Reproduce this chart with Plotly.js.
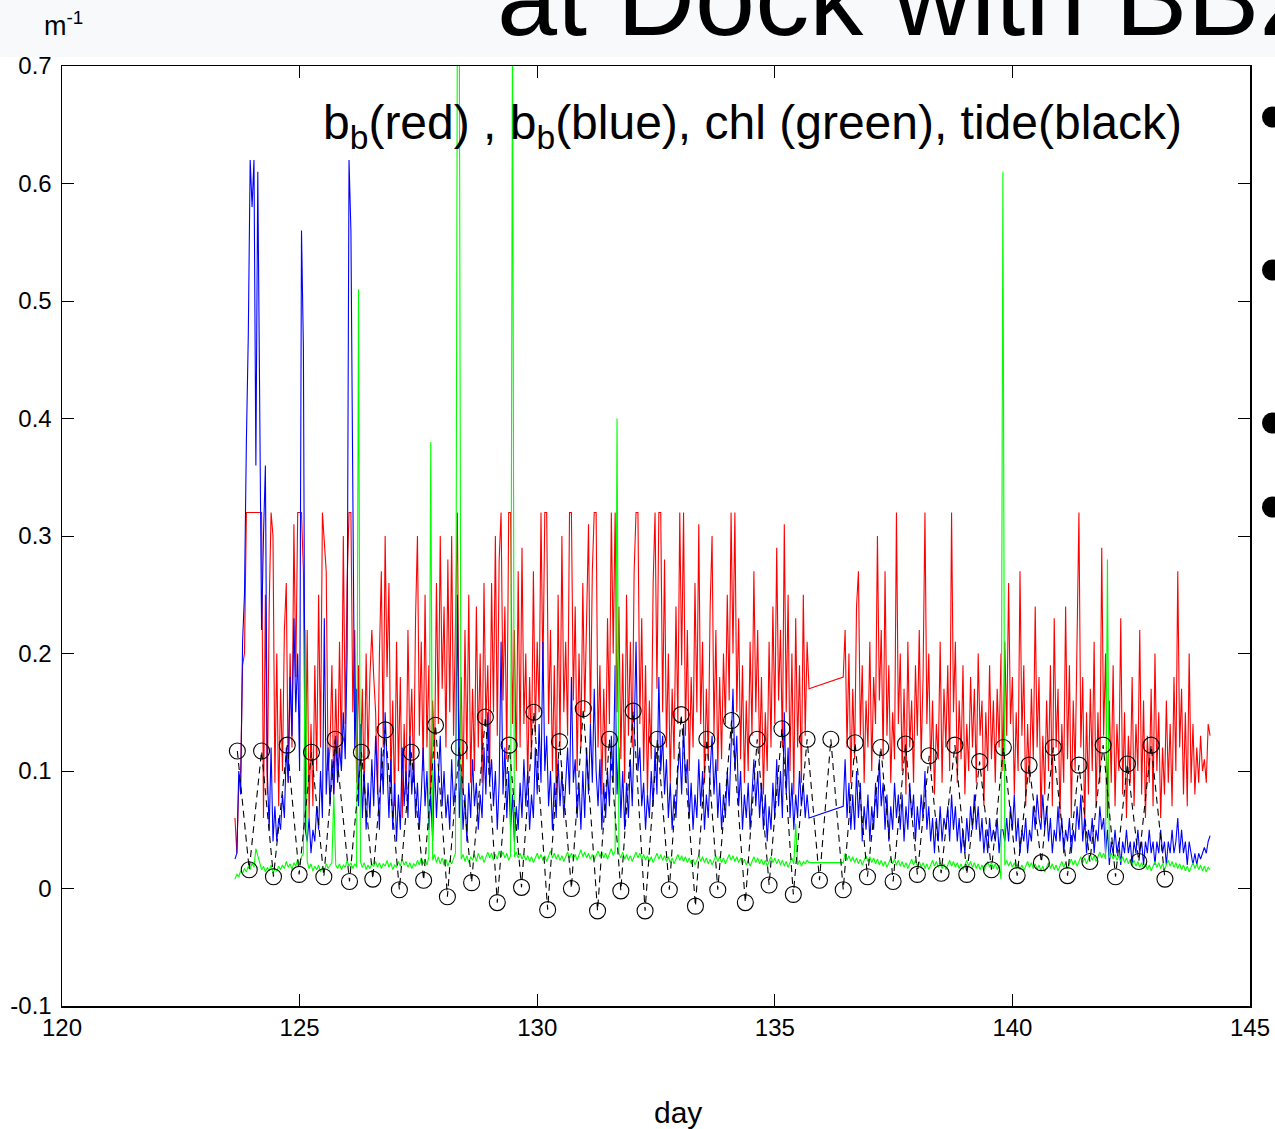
<!DOCTYPE html>
<html>
<head>
<meta charset="utf-8">
<script src="https://cdn.plot.ly/plotly-3.0.1.min.js"></script>
<style>
  html, body { margin: 0; padding: 0; background: #ffffff; }
  #chart { width: 1275px; height: 1129px; }
</style>
</head>
<body>
<div id="chart"></div>
<script>
// ---------------- DATA ----------------
// sampling of the backscatter / chlorophyll record (day of year)
const sampleStartDay = 123.64;
const sampleStepDay = 0.04;

// b_b (red), m^-1  (null = no data, gap joined by a straight line)
const bbRed = [
  0.06,0.03,0.09,0.10,0.19,0.20,0.32,0.32,0.32,0.32,0.32,0.32,0.32,0.32,0.32,0.06,0.25,0.08,0.24,0.32,0.30,0.09,0.20,0.07,0.17,
  0.10,0.22,0.26,0.09,0.20,0.12,0.31,0.18,0.32,0.32,0.32,0.27,0.08,0.22,0.06,0.14,0.07,0.19,0.10,0.25,0.12,0.32,0.29,0.27,0.10,
  0.12,0.19,0.08,0.17,0.10,0.21,0.11,0.30,0.14,0.26,0.32,0.32,0.15,0.22,0.09,0.19,0.10,0.17,0.08,0.20,0.11,0.18,0.22,0.18,0.15,
  0.08,0.20,0.27,0.12,0.30,0.18,0.26,0.09,0.16,0.07,0.21,0.10,0.18,0.06,0.14,0.08,0.22,0.12,0.17,0.09,0.23,0.30,0.13,0.21,0.10,
  0.25,0.12,0.19,0.08,0.16,0.11,0.26,0.14,0.30,0.17,0.24,0.12,0.28,0.15,0.30,0.13,0.21,0.32,0.10,0.18,0.08,0.22,0.11,0.25,0.09,
  0.17,0.10,0.24,0.12,0.20,0.09,0.26,0.14,0.19,0.10,0.26,0.15,0.30,0.13,0.28,0.32,0.16,0.24,0.11,0.32,0.32,0.14,0.22,0.10,0.27,
  0.12,0.29,0.14,0.20,0.09,0.18,0.11,0.27,0.13,0.21,0.15,0.32,0.18,0.32,0.32,0.14,0.22,0.10,0.19,0.08,0.25,0.12,0.30,0.15,0.21,
  0.13,0.32,0.32,0.16,0.24,0.10,0.20,0.12,0.26,0.15,0.22,0.31,0.14,0.27,0.32,0.32,0.12,0.19,0.08,0.17,0.10,0.23,0.14,0.32,0.20,
  0.32,0.15,0.24,0.11,0.20,0.09,0.25,0.13,0.21,0.12,0.27,0.32,0.32,0.14,0.23,0.10,0.19,0.08,0.16,0.11,0.26,0.32,0.17,0.32,0.32,
  0.15,0.28,0.12,0.20,0.09,0.17,0.11,0.24,0.14,0.32,0.19,0.32,0.13,0.22,0.10,0.18,0.12,0.26,0.15,0.31,0.14,0.21,0.09,0.17,0.11,
  0.24,0.30,0.13,0.22,0.10,0.18,0.11,0.20,0.14,0.25,0.16,0.32,0.20,0.32,0.15,0.23,0.11,0.19,0.09,0.16,0.10,0.21,0.13,0.27,0.15,
  0.22,0.11,0.18,0.08,0.15,0.10,0.21,0.12,0.24,0.14,0.29,0.16,0.22,0.12,0.31,0.15,0.25,0.10,0.20,0.08,0.23,0.12,0.19,0.09,0.25,
  0.13,0.21,0.17,null,null,null,null,null,null,null,null,null,null,null,null,null,null,null,null,null,0.18,0.22,0.12,0.20,0.09,
  0.17,0.11,0.24,0.27,0.13,0.19,0.09,0.16,0.12,0.21,0.10,0.18,0.14,0.30,0.16,0.22,0.11,0.27,0.13,0.19,0.09,0.15,0.11,0.32,0.14,
  0.20,0.10,0.17,0.08,0.21,0.12,0.16,0.09,0.19,0.13,0.22,0.11,0.18,0.32,0.14,0.20,0.10,0.16,0.08,0.14,0.11,0.21,0.09,0.17,0.12,
  0.19,0.10,0.32,0.15,0.21,0.09,0.16,0.11,0.19,0.08,0.14,0.10,0.18,0.12,0.17,0.09,0.20,0.13,0.16,0.07,0.15,0.10,0.19,0.11,0.16,
  0.09,0.17,0.12,0.20,0.10,0.21,0.13,0.26,0.14,0.18,0.08,0.15,0.10,0.27,0.13,0.19,0.07,0.14,0.09,0.17,0.11,0.24,0.12,0.18,0.06,
  0.13,0.08,0.16,0.10,0.19,0.07,0.23,0.12,0.17,0.06,0.14,0.09,0.24,0.11,0.19,0.06,0.16,0.10,0.21,0.32,0.12,0.18,0.05,0.15,0.08,
  0.17,0.10,0.21,0.07,0.15,0.09,0.29,0.13,0.20,0.06,0.16,0.09,0.19,0.07,0.14,0.10,0.23,0.08,0.15,0.06,0.13,0.09,0.18,0.07,0.14,
  0.10,0.22,0.08,0.16,0.06,0.13,0.09,0.17,0.07,0.20,0.10,0.15,0.06,0.12,0.08,0.16,0.09,0.14,0.07,0.18,0.10,0.27,0.12,0.17,0.08,
  0.15,0.07,0.20,0.09,0.14,0.08,0.12,0.09,0.13,0.10,0.11,0.09,0.14,0.13
];

// b_b (blue), m^-1
const bbBlue = [
  0.025,0.03,0.10,0.08,0.21,0.25,0.38,0.47,0.62,0.58,0.62,0.36,0.61,0.44,0.22,0.30,0.36,0.10,0.05,0.12,0.04,0.07,0.04,0.06,0.05,
  0.08,0.06,0.12,0.09,0.18,0.13,0.23,0.15,0.20,0.10,0.56,0.46,0.05,0.04,0.06,0.03,0.05,0.04,0.07,0.05,0.10,0.06,0.23,0.08,0.12,
  0.07,0.11,0.08,0.13,0.09,0.12,0.10,0.15,0.11,0.20,0.62,0.56,0.37,0.12,0.17,0.07,0.14,0.06,0.10,0.05,0.09,0.06,0.11,0.07,0.13,
  0.09,0.05,0.12,0.08,0.15,0.10,0.06,0.11,0.05,0.09,0.04,0.08,0.05,0.12,0.07,0.10,0.06,0.13,0.08,0.11,0.06,0.09,0.05,0.08,0.12,
  0.07,0.10,0.05,0.08,0.04,0.11,0.06,0.09,0.13,0.07,0.10,0.06,0.08,0.05,0.11,0.07,0.09,0.25,0.06,0.10,0.05,0.08,0.04,0.09,0.06,
  0.11,0.07,0.09,0.05,0.08,0.06,0.12,0.08,0.15,0.09,0.11,0.07,0.10,0.05,0.09,0.21,0.08,0.12,0.06,0.10,0.05,0.08,0.04,0.07,0.05,
  0.09,0.06,0.11,0.07,0.10,0.05,0.08,0.06,0.12,0.08,0.14,0.09,0.21,0.10,0.13,0.07,0.10,0.05,0.09,0.06,0.11,0.07,0.10,0.06,0.09,
  0.12,0.08,0.18,0.09,0.11,0.06,0.09,0.05,0.10,0.06,0.12,0.08,0.14,0.09,0.17,0.10,0.07,0.11,0.05,0.09,0.06,0.10,0.07,0.13,0.09,
  0.19,0.08,0.12,0.06,0.10,0.05,0.09,0.06,0.11,0.07,0.13,0.21,0.10,0.12,0.07,0.09,0.05,0.08,0.06,0.10,0.07,0.12,0.08,0.18,0.10,
  0.13,0.08,0.11,0.06,0.09,0.05,0.08,0.06,0.10,0.12,0.08,0.14,0.09,0.11,0.06,0.09,0.05,0.08,0.06,0.11,0.07,0.10,0.05,0.08,0.06,
  0.10,0.13,0.08,0.11,0.06,0.09,0.05,0.08,0.06,0.10,0.07,0.12,0.17,0.10,0.13,0.07,0.10,0.05,0.08,0.06,0.09,0.05,0.08,0.11,0.07,
  0.10,0.06,0.09,0.05,0.08,0.04,0.07,0.05,0.09,0.06,0.11,0.07,0.10,0.06,0.15,0.08,0.12,0.06,0.09,0.05,0.08,0.06,0.10,0.07,0.09,
  0.06,0.08,0.06,null,null,null,null,null,null,null,null,null,null,null,null,null,null,null,null,null,0.07,0.11,0.06,0.09,0.05,
  0.08,0.05,0.10,0.06,0.09,0.04,0.07,0.05,0.08,0.04,0.07,0.05,0.09,0.06,0.11,0.07,0.09,0.05,0.08,0.04,0.07,0.05,0.09,0.06,0.08,
  0.05,0.08,0.04,0.07,0.05,0.09,0.06,0.08,0.04,0.07,0.05,0.08,0.06,0.10,0.05,0.07,0.04,0.06,0.03,0.06,0.04,0.07,0.04,0.06,0.05,
  0.07,0.04,0.08,0.05,0.07,0.04,0.06,0.03,0.05,0.03,0.06,0.04,0.07,0.05,0.08,0.05,0.07,0.04,0.06,0.03,0.05,0.03,0.06,0.04,0.05,
  0.04,0.06,0.03,0.05,0.05,0.04,0.06,0.04,0.07,0.05,0.08,0.04,0.06,0.03,0.05,0.04,0.06,0.03,0.05,0.04,0.07,0.05,0.08,0.06,0.05,
  0.08,0.05,0.07,0.04,0.06,0.03,0.05,0.04,0.07,0.04,0.06,0.03,0.05,0.04,0.06,0.03,0.05,0.04,0.07,0.05,0.08,0.04,0.06,0.03,0.05,
  0.04,0.06,0.03,0.05,0.04,0.07,0.05,0.06,0.03,0.05,0.02,0.04,0.03,0.05,0.03,0.04,0.02,0.04,0.03,0.05,0.03,0.04,0.02,0.04,0.03,
  0.05,0.03,0.04,0.02,0.04,0.03,0.05,0.03,0.04,0.02,0.04,0.03,0.05,0.03,0.04,0.02,0.04,0.03,0.05,0.03,0.04,0.06,0.03,0.05,0.03,
  0.04,0.02,0.04,0.03,0.02,0.03,0.02,0.03,0.025,0.03,0.035,0.03,0.04,0.045
];

// chlorophyll (green), plotted on the same axis
const chlGreen = [
  0.008,0.012,0.010,0.015,0.013,0.017,0.014,0.019,0.016,0.022,0.018,0.034,0.028,0.021,0.016,0.019,0.014,0.018,0.015,0.020,0.013,0.017,0.015,0.019,0.016,
  0.020,0.017,0.023,0.018,0.021,0.016,0.022,0.019,0.025,0.020,0.027,0.030,0.22,0.023,0.017,0.021,0.015,0.019,0.016,0.020,0.014,0.018,0.015,0.021,0.017,
  0.019,0.022,0.08,0.020,0.017,0.021,0.016,0.020,0.018,0.024,0.019,0.022,0.017,0.021,0.018,0.51,0.023,0.018,0.022,0.016,0.020,0.017,0.021,0.019,0.023,
  0.018,0.022,0.017,0.021,0.019,0.024,0.018,0.022,0.016,0.020,0.018,0.023,0.019,0.025,0.020,0.023,0.018,0.022,0.017,0.021,0.019,0.024,0.020,0.026,0.021,
  0.025,0.020,0.027,0.38,0.024,0.029,0.022,0.027,0.021,0.026,0.020,0.025,0.019,0.024,0.021,0.026,0.030,0.75,0.75,0.025,0.029,0.023,0.028,0.022,0.027,
  0.024,0.029,0.023,0.030,0.025,0.028,0.022,0.027,0.031,0.026,0.030,0.024,0.029,0.025,0.032,0.027,0.031,0.026,0.030,0.024,0.028,0.75,0.027,0.031,0.026,
  0.030,0.025,0.029,0.024,0.028,0.023,0.027,0.022,0.026,0.030,0.025,0.029,0.024,0.028,0.023,0.027,0.032,0.026,0.030,0.025,0.029,0.024,0.028,0.023,0.027,
  0.031,0.026,0.030,0.025,0.029,0.024,0.028,0.033,0.027,0.031,0.026,0.030,0.025,0.029,0.024,0.028,0.032,0.027,0.031,0.026,0.030,0.025,0.029,0.034,0.028,
  0.032,0.40,0.030,0.026,0.031,0.025,0.029,0.024,0.028,0.023,0.027,0.031,0.026,0.030,0.025,0.029,0.024,0.028,0.023,0.027,0.022,0.026,0.030,0.025,0.029,
  0.024,0.028,0.023,0.027,0.022,0.026,0.021,0.025,0.029,0.024,0.028,0.023,0.027,0.022,0.026,0.021,0.025,0.020,0.024,0.028,0.023,0.027,0.022,0.026,0.021,
  0.025,0.020,0.024,0.028,0.023,0.027,0.022,0.026,0.021,0.025,0.029,0.024,0.028,0.023,0.027,0.022,0.026,0.021,0.025,0.020,0.024,0.019,0.023,0.027,0.022,
  0.026,0.021,0.025,0.020,0.024,0.019,0.023,0.027,0.022,0.026,0.021,0.025,0.020,0.024,0.019,0.023,0.018,0.022,0.026,0.021,0.055,0.020,0.024,0.019,0.023,
  0.021,0.024,0.022,null,null,null,null,null,null,null,null,null,null,null,null,null,null,null,null,null,0.022,0.030,0.024,0.028,0.023,
  0.027,0.022,0.026,0.021,0.025,0.020,0.024,0.028,0.023,0.027,0.022,0.026,0.021,0.025,0.020,0.024,0.019,0.023,0.018,0.022,0.026,0.021,0.025,0.020,0.024,
  0.019,0.023,0.018,0.022,0.017,0.021,0.025,0.020,0.024,0.019,0.023,0.018,0.022,0.017,0.021,0.016,0.020,0.024,0.019,0.023,0.018,0.022,0.017,0.021,0.016,
  0.020,0.024,0.019,0.023,0.018,0.022,0.017,0.021,0.016,0.020,0.024,0.019,0.023,0.018,0.022,0.017,0.021,0.016,0.020,0.015,0.019,0.023,0.018,0.022,0.017,
  0.021,0.016,0.020,0.008,0.61,0.020,0.024,0.019,0.023,0.018,0.022,0.017,0.021,0.016,0.020,0.015,0.019,0.023,0.018,0.022,0.017,0.021,0.016,0.020,0.015,
  0.019,0.014,0.018,0.022,0.017,0.021,0.016,0.020,0.015,0.019,0.023,0.018,0.022,0.017,0.021,0.025,0.020,0.024,0.019,0.023,0.027,0.022,0.026,0.021,0.025,
  0.029,0.024,0.028,0.023,0.027,0.031,0.026,0.030,0.025,0.28,0.026,0.030,0.025,0.029,0.024,0.028,0.023,0.027,0.022,0.026,0.021,0.025,0.020,0.024,0.019,
  0.023,0.018,0.022,0.017,0.021,0.016,0.020,0.015,0.019,0.023,0.018,0.022,0.017,0.021,0.016,0.020,0.024,0.019,0.023,0.018,0.022,0.017,0.021,0.016,0.020,
  0.015,0.019,0.014,0.018,0.022,0.017,0.021,0.016,0.020,0.015,0.019,0.014,0.018,0.016
];

// tide (black): alternating high and low water, day and relative level
const tideDays = [
  123.69,123.94,124.20,124.45,124.74,124.99,125.25,125.51,125.75,126.05,
  126.30,126.54,126.80,127.10,127.35,127.61,127.86,128.11,128.36,128.62,
  128.91,129.16,129.41,129.67,129.93,130.22,130.47,130.72,130.97,131.27,
  131.52,131.76,132.02,132.27,132.53,132.78,133.03,133.33,133.57,133.80,
  134.09,134.38,134.63,134.88,135.15,135.39,135.68,135.94,136.18,136.44,
  136.69,136.95,137.23,137.49,137.75,138.00,138.25,138.50,138.79,139.04,
  139.31,139.56,139.81,140.10,140.35,140.61,140.86,141.16,141.40,141.63,
  141.91,142.17,142.42,142.66,142.92,143.21
];
const tideLevel = [
  0.117,0.016,0.117,0.010,0.122,0.012,0.116,0.010,0.127,0.006,
  0.116,0.008,0.135,-0.001,0.116,0.007,0.139,-0.007,0.120,0.005,
  0.146,-0.012,0.122,0.001,0.150,-0.018,0.125,0.000,0.153,-0.019,
  0.127,-0.002,0.151,-0.019,0.127,-0.001,0.148,-0.015,0.127,-0.001,
  0.143,-0.012,0.127,0.003,0.136,-0.005,0.127,0.007,0.127,-0.001,
  0.124,0.010,0.120,0.006,0.123,0.012,0.113,0.013,0.122,0.012,
  0.108,0.016,0.120,0.011,0.105,0.022,0.120,0.011,0.105,0.023,
  0.122,0.010,0.106,0.023,0.122,0.008
];

const xTickValues = [120, 125, 130, 135, 140, 145];
const xTickLabels = ['120', '125', '130', '135', '140', '145'];
const yTickValues = [-0.1, 0, 0.1, 0.2, 0.3, 0.4, 0.5, 0.6, 0.7];
const yTickLabels = ['-0.1', '0', '0.1', '0.2', '0.3', '0.4', '0.5', '0.6', '0.7'];

const chartTitle = 'at Dock with BB2';
const unitLabel = 'm<sup>-1</sup>';
const keyText = 'b<sub>b</sub>(red) , b<sub>b</sub>(blue), chl (green), tide(black)';
const xLabel = 'day';

// ---------------- BUILD ----------------
const sampleDays = bbRed.map((_, i) => +(sampleStartDay + i * sampleStepDay).toFixed(2));

const W = 1275, H = 1129;
const M = { l: 62, r: 25, t: 66, b: 123 };
const PW = W - M.l - M.r, PH = H - M.t - M.b;
const px2paperX = px => (px - M.l) / PW;
const px2paperY = py => (H - M.b - py) / PH;

const FONT = 'Liberation Sans, Arial, Helvetica, sans-serif';

const traces = [
  { x: sampleDays, y: bbRed, type: 'scatter', mode: 'lines', connectgaps: true,
    line: { color: '#ff0000', width: 1.1 }, name: 'bb red' },
  { x: sampleDays, y: bbBlue, type: 'scatter', mode: 'lines', connectgaps: true,
    line: { color: '#0000ff', width: 1.1 }, name: 'bb blue' },
  { x: sampleDays, y: chlGreen, type: 'scatter', mode: 'lines', connectgaps: true,
    line: { color: '#00ff00', width: 1.1 }, name: 'chl' },
  { x: tideDays, y: tideLevel, type: 'scatter', mode: 'lines+markers',
    line: { color: '#000000', width: 1.1, dash: '7px,5px' },
    marker: { symbol: 'circle-open', size: 16, color: '#000000', line: { width: 1.1, color: '#000000' } },
    name: 'tide' }
];

const bulletYs = [117, 270, 423, 507];
const shapes = [
  { type: 'rect', xref: 'paper', yref: 'paper', layer: 'above',
    x0: px2paperX(-5), x1: px2paperX(W + 5), y0: px2paperY(57), y1: px2paperY(-5),
    fillcolor: '#f7f9fa', line: { width: 0 } }
].concat(bulletYs.map(cy => ({
  type: 'circle', xref: 'paper', yref: 'paper', layer: 'above',
  x0: px2paperX(1262), x1: px2paperX(1283), y0: px2paperY(cy + 10.5), y1: px2paperY(cy - 10.5),
  fillcolor: '#000000', line: { width: 0 }
})));

const layout = {
  width: W, height: H,
  margin: M,
  paper_bgcolor: '#ffffff', plot_bgcolor: '#ffffff',
  showlegend: false,
  font: { family: FONT, color: '#000000', size: 24 },
  xaxis: {
    range: [120, 145], tickmode: 'array', tickvals: xTickValues, ticktext: xTickLabels,
    ticks: 'inside', ticklen: 12, tickwidth: 1, tickcolor: '#000000',
    showline: true, linecolor: '#000000', linewidth: 1.5, mirror: 'allticks',
    showgrid: false, zeroline: false,
    tickfont: { family: FONT, size: 24, color: '#000000' }
  },
  yaxis: {
    range: [-0.1, 0.7], tickmode: 'array', tickvals: yTickValues, ticktext: yTickLabels,
    ticks: 'inside', ticklen: 12, tickwidth: 1, tickcolor: '#000000',
    showline: true, linecolor: '#000000', linewidth: 1.5, mirror: 'allticks',
    showgrid: false, zeroline: false, ticklabelstandoff: 4,
    tickfont: { family: FONT, size: 24, color: '#000000' }
  },
  shapes: shapes,
  annotations: [
    { text: chartTitle, xref: 'paper', yref: 'paper', x: px2paperX(495), y: px2paperY(60),
      xanchor: 'left', yanchor: 'bottom', showarrow: false,
      font: { family: FONT, size: 108, color: '#000000' } },
    { text: unitLabel, xref: 'paper', yref: 'paper', x: px2paperX(42), y: px2paperY(24),
      xanchor: 'left', yanchor: 'middle', showarrow: false,
      font: { family: FONT, size: 27, color: '#000000' } },
    { text: keyText, xref: 'paper', yref: 'paper', x: px2paperX(752), y: px2paperY(126),
      xanchor: 'center', yanchor: 'middle', showarrow: false,
      font: { family: FONT, size: 48, color: '#000000' } },
    { text: xLabel, xref: 'paper', yref: 'paper', x: px2paperX(678), y: px2paperY(1112),
      xanchor: 'center', yanchor: 'middle', showarrow: false,
      font: { family: FONT, size: 30, color: '#000000' } }
  ]
};

Plotly.newPlot('chart', traces, layout, { staticPlot: true, displayModeBar: false });
</script>
</body>
</html>
